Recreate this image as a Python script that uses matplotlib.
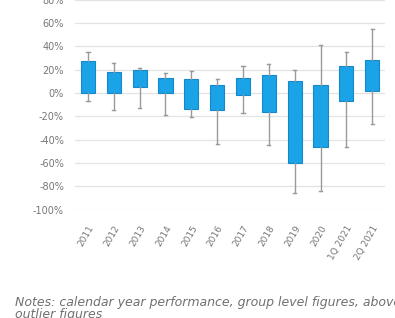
import matplotlib
matplotlib.use("Agg")
import matplotlib.pyplot as plt

# Category labels and box-plot values (in %)
periods = ["2011", "2012", "2013", "2014", "2015", "2016", "2017", "2018",
           "2019", "2020", "1Q 2021", "2Q 2021"]
whisker_low = [-7, -15, -13, -19, -21, -44, -17, -45, -86, -84, -46, -27]
box_low = [0, 0, 5, 0, -14, -15, -2, -16, -60, -46, -7, 2]
box_high = [27, 18, 20, 13, 12, 6.5, 13, 15, 10, 7, 23, 28]
whisker_high = [35, 26, 21, 17, 19, 12, 23, 25, 20, 41, 35, 55]

y_ticks = [-100, -80, -60, -40, -20, 0, 20, 40, 60, 80]

fig = plt.figure(figsize=(3.95, 3.18), dpi=100)
ax = fig.add_axes([0.19, 0.341, 0.785, 0.66])

# build stats for bxp
stats = []
for lab, lo, q1, q3, hi in zip(periods, whisker_low, box_low, box_high, whisker_high):
    stats.append({"label": lab, "whislo": lo, "q1": q1, "med": q1,
                  "q3": q3, "whishi": hi, "fliers": []})

ax.bxp(stats, positions=range(len(stats)), widths=0.55, patch_artist=True,
       showfliers=False,
       boxprops=dict(facecolor="#1aa3e6", edgecolor="#1588cc", linewidth=0.8),
       whiskerprops=dict(color="#9a9a9a", linewidth=1.0),
       capprops=dict(color="#9a9a9a", linewidth=1.0),
       capwidths=0.12,
       medianprops=dict(linewidth=0))

ax.set_xlim(-0.5, len(stats) - 0.5)
ax.set_ylim(-100, 80)
ax.set_yticks(y_ticks)
ax.set_yticklabels([f"{v}%" for v in y_ticks])
ax.yaxis.grid(True, color="#e3e3e3", linewidth=0.9)
ax.set_axisbelow(True)

for s in ax.spines.values():
    s.set_visible(False)

ax.tick_params(axis="y", length=0, pad=8, labelsize=7, labelcolor="#777777")
ax.tick_params(axis="x", length=0, pad=10, labelsize=6.5, labelcolor="#777777")
ax.set_xticks(range(len(periods)))
ax.set_xticklabels(periods, rotation=60, ha="right", rotation_mode="anchor")

fig.text(0.038, 0.03, "Notes: calendar year performance, group level figures, above market and\noutlier figures",
         fontsize=9, style="italic", color="#707070", linespacing=0.95, va="center")

fig.savefig("out.png", dpi=100)
